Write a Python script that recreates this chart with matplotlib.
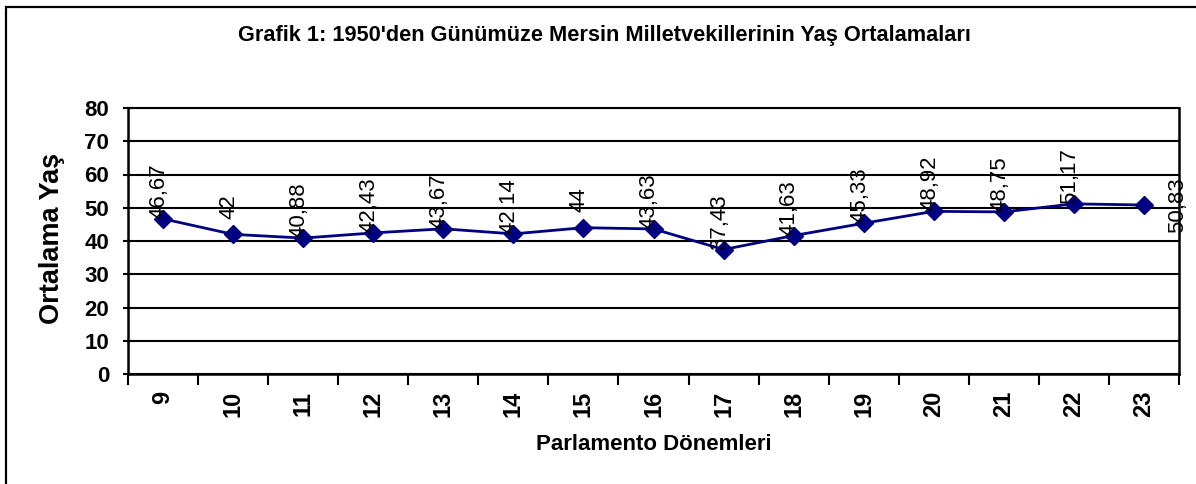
import matplotlib
matplotlib.use('Agg')
import matplotlib.pyplot as plt
from matplotlib.patches import Rectangle

# data
donem = ['9', '10', '11', '12', '13', '14', '15', '16', '17', '18', '19', '20', '21', '22', '23']
yas = [46.67, 42, 40.88, 42.43, 43.67, 42.14, 44, 43.63, 37.43, 41.63, 45.33, 48.92, 48.75, 51.17, 50.83]
etiket = ['46,67', '42', '40,88', '42,43', '43,67', '42,14', '44', '43,63', '37,43', '41,63',
          '45,33', '48,92', '48,75', '51,17', '50,83']

plt.rcParams['font.family'] = ['Liberation Sans', 'DejaVu Sans']

W, H = 1196, 484
fig = plt.figure(figsize=(W / 100, H / 100), dpi=100)

# outer chart border (right and bottom run past the picture)
fig.patches.append(Rectangle((6 / W, -0.05), 1.1, (H - 7) / H + 0.05, transform=fig.transFigure,
                             fill=False, edgecolor='black', linewidth=1.6))

ax = fig.add_axes([128 / W, (H - 374) / H, (1179 - 128) / W, (374 - 108) / H])

x = list(range(len(donem)))
ax.plot(x, yas, color='#000080', linewidth=2, marker='D', markersize=9.5,
        markerfacecolor='#000080', markeredgecolor='#000080', zorder=3)

ax.set_xlim(-0.5, len(donem) - 0.5)
ax.set_ylim(0, 80)
ax.set_yticks(range(0, 81, 10))
ax.yaxis.grid(True, color='black', linewidth=1.5)
ax.set_axisbelow(True)

ax.set_xticks(x)
ax.set_xticklabels(donem, rotation=90, fontsize=17, fontweight='bold')
ax.tick_params(axis='x', length=0, pad=12)
ax.set_xticks([i - 0.5 for i in range(len(donem) + 1)], minor=True)
ax.tick_params(axis='x', which='minor', length=8, width=1.5, direction='out')
ax.tick_params(axis='y', length=7, width=1.5, direction='inout', labelsize=16, pad=10)
for t in ax.get_yticklabels():
    t.set_fontweight('bold')

for s in ['left', 'bottom', 'right']:
    ax.spines[s].set_linewidth(1.8)
ax.spines['top'].set_linewidth(1.5)

# data labels
for i, (v, e) in enumerate(zip(yas, etiket)):
    if i == len(yas) - 1:
        ax.annotate(e, (i, v), xytext=(24, 0), textcoords='offset points',
                    rotation=90, ha='center', va='center', fontsize=16)
    else:
        ax.annotate(e, (i, v), xytext=(-3, 20), textcoords='offset points',
                    rotation=90, ha='center', va='center', fontsize=16)

fig.text(52 / W, 1 - 238 / H, 'Ortalama Yaş', rotation=90, ha='center', va='center',
         fontsize=19.5, fontweight='bold')
fig.text(654 / W, 1 - 444 / H, 'Parlamento Dönemleri', ha='center', va='center',
         fontsize=16, fontweight='bold')
fig.text(604 / W, 1 - 35 / H, "Grafik 1: 1950'den Günümüze Mersin Milletvekillerinin Yaş Ortalamaları",
         ha='center', va='center', fontsize=15.7, fontweight='bold')

fig.savefig('out.png', dpi=100)
